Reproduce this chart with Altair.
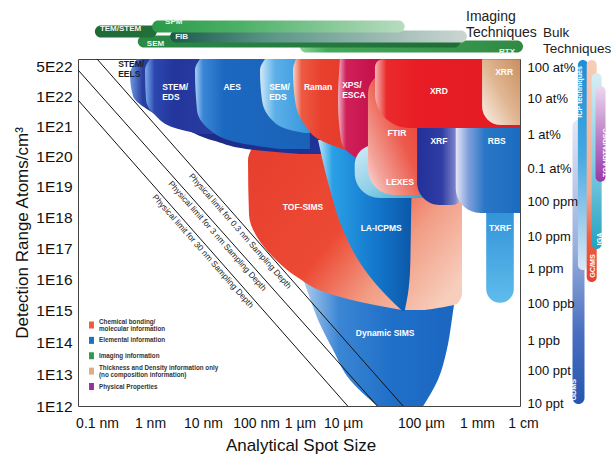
import altair as alt
import pandas as pd

FONT = "Liberation Sans"

# ------------------------------------------------------------------ data
# Spot size is stored as log10(metres), detection range as log10(atoms/cm3),
# bulk ranges as log10(atomic fraction).
SPOT_TICKS = [-10, -9, -8, -7, -6, -5, -4, -3, -2]
SPOT_LABELS = ["0.1 nm", "1 nm", "10 nm", "100 nm", "1 µm", "10 µm", "100 µm", "1 mm", "1 cm"]
DET_TICKS = [12, 13, 14, 15, 16, 17, 18, 19, 20, 21, 22, 22.699]
DET_LABELS = ["1E12", "1E13", "1E14", "1E15", "1E16", "1E17", "1E18", "1E19",
              "1E20", "1E21", "1E22", "5E22"]
FRAC_TICKS = [0, -1, -2, -3, -4, -5, -6, -7, -9, -10, -11]
FRAC_LABELS = ["100 at%", "10 at%", "1 at%", "0.1 at%", "100 ppm", "10 ppm", "1 ppm",
               "100 ppb", "1 ppb", "100 ppt", "10 ppt"]

# techniques with a simple spot-size range x detection range
TECHNIQUES = ["LEXES", "FTIR", "TXRF", "XRF", "RBS", "XRD", "XRR"]
SPOT_MIN = [-4.85, -4.68, -2.80, -4.05, -3.38, -4.59, -2.89]
SPOT_MAX = [-3.75, -4.01, -2.20, -3.27, -2.065, -2.065, -2.065]
DET_MIN = [18.61, 18.71, 15.23, 18.39, 18.13, 20.93, 21.03]
DET_MAX = [20.37, 22.56, 18.55, 20.97, 20.97, 22.86, 22.86]

# techniques whose spot-size limits change with detection level
EELS_DET = [22.863, 22.49, 22.0, 21.5, 21.0, 20.5, 20.2, 20.067]
EELS_MIN = [-9.245, -9.377, -9.321, -9.0, -8.434, -7.774, -7.019, -6.0]
EELS_MAX = [-5.04, -5.04, -5.04, -5.04, -5.04, -5.04, -5.04, -5.04]
EDS_DET = [22.863, 22.607, 21.867, 21.367, 20.933, 20.733]
EDS_MIN = [-9.0, -9.094, -9.075, -8.906, -8.528, -8.057]
EDS_MAX = [-7.30, -7.30, -7.30, -7.30, -7.30, -7.30]
AES_DET = [22.863, 22.607, 21.533, 20.867, 20.433, 20.233]
AES_MIN = [-8.057, -8.151, -8.113, -7.868, -7.302, -6.455]
AES_MAX = [-5.77, -5.77, -5.77, -5.77, -5.77, -5.77]
SEMEDS_DET = [22.863, 22.607, 21.867, 21.2, 20.867, 20.767]
SEMEDS_MIN = [-6.795, -6.909, -6.864, -6.636, -6.227, -5.884]
SEMEDS_MAX = [-5.77, -5.77, -5.77, -5.77, -5.77, -5.77]
RAMAN_DET = [22.863, 22.607, 21.867, 21.033, 20.533, 20.2]
RAMAN_MIN = [-6.091, -6.159, -6.114, -5.884, -5.535, -4.974]
RAMAN_MAX = [-4.91, -4.91, -4.91, -4.91, -4.91, -4.91]
XPS_DET = [22.863, 21.867, 20.533, 20.033, 19.767, 19.6]
XPS_MIN = [-5.07, -5.116, -5.047, -4.885, -4.654, -4.269]
XPS_MAX = [-4.2, -4.2, -4.2, -4.2, -4.2, -4.2]
TOF_DET = [20.267, 19.867, 18.065, 17.355, 16.71, 16.065, 15.548, 15.226, 15.0]
TOF_MIN = [-7.075, -7.151, -7.132, -6.977, -6.614, -6.068, -5.372, -4.718, -4.244]
TOF_MAX = [-3.268, -3.268, -3.268, -3.268, -3.268, -3.268, -3.268, -3.339, -3.929]
DSIMS_DET = [16.29, 15.65, 14.69, 13.75, 12.81, 12.0]
DSIMS_MIN = [-6.00, -5.84, -5.58, -5.23, -4.91, -4.56]
DSIMS_MAX = [-3.39, -3.39, -3.45, -3.54, -3.70, -3.96]
LAICP_DET = [20.53, 18.87, 17.58, 16.29, 15.48, 14.97]
LAICP_MIN = [-5.58, -5.30, -5.00, -4.72, -4.45, -4.24]
LAICP_MAX = [-4.08, -4.12, -4.13, -4.14, -4.17, -4.21]

# technique names written inside the regions (position of the first line)
REGION_LABELS = ["STEM/\nEDS", "SEM/\nEDS", "XPS/\nESCA",
                 "AES", "Raman", "XRD", "XRR", "FTIR", "XRF", "RBS", "LEXES",
                 "TOF-SIMS", "LA-ICPMS", "TXRF", "Dynamic SIMS"]
REGION_LABEL_SPOT = [-8.77, -6.70, -5.02,
                     -7.45, -5.58, -3.68, -2.41, -4.31, -3.68, -2.57, -4.27,
                     -5.93, -4.51, -2.50, -4.46]
REGION_LABEL_DET = [22.21, 22.21, 22.257,
                    22.21, 22.21, 22.12, 22.56, 20.77, 20.50, 20.50, 19.13,
                    18.32, 17.65, 17.65, 14.28]
EELS_LABEL = "STEM/\nEELS"
EELS_LABEL_SPOT, EELS_LABEL_DET = -9.60, 22.747

# physical limits for sampling depth
LIMIT_DEPTH = ["0.3 nm", "3 nm", "30 nm"]
LIMIT_SPOT_START = [-10.0, -10.358, -10.358]
LIMIT_DET_START = [22.863, 22.607, 21.867]
LIMIT_SPOT_END = [-4.23, -4.56, -4.94]
LIMIT_DET_END = [12.0, 12.0, 12.0]
LIMIT_LABEL_SPOT = [-7.21, -7.64, -7.91]
LIMIT_LABEL_DET = [17.68, 17.52, 17.03]

# imaging techniques (spot-size span)
IMAGING = ["RTX", "SEM", "FIB", "TEM/STEM", "SPM"]
IMAGING_MIN = [-6.00, -9.23, -8.62, -10.04, -8.96]
IMAGING_MAX = [-2.00, -3.30, -3.18, -8.87, -4.21]

# bulk techniques (atomic-fraction span)
BULK = ["GDMS", "ICP techniques", "GC/MS", "IGA", "TGA/DTA/DSC"]
BULK_TOP = [-1.61, 0.22, 0.22, -0.19, -0.61]
BULK_BOTTOM = [-11.03, -6.06, -6.40, -5.41, -3.42]
BULK_LABEL_POS = [-10.6, -0.8, -5.94, -5.09, -2.55]

INFO_TYPES = ["Chemical bonding/\nmolecular information", "Elemental information",
              "Imaging information",
              "Thickness and Density information only\n(no composition information)",
              "Physical Properties"]
INFO_COLORS = ["#ef5b3d", "#1b6fc4", "#2f9a4e", "#e0aa86", "#97309f"]

# ------------------------------------------------------------------ layout
W, H = 442, 347
X_MAIN = alt.Scale(domain=[-10.358] + SPOT_TICKS,
                   range=[0, 19, 72, 125, 178, 222, 265, 343, 399, 445], nice=False, zero=False)
Y_MAIN = alt.Scale(domain=DET_TICKS + [22.863],
                   range=[347, 315, 283, 251, 220, 189, 158, 127, 97, 67, 37, 7, 0],
                   nice=False, zero=False)
Y_FRAC = alt.Scale(domain=[-11.1, -11, -10, -9, -7, -6, -5, -4, -3, -2, -1, 0, 0.25],
                   range=[347, 344, 311, 281, 244, 209, 177, 142, 109, 75, 39, 8, 0],
                   nice=False, zero=False)
Y_ROWS = alt.Scale(domain=[0, 4], range=[-37.5, -7.5], nice=False, zero=False)
X_SLOTS = alt.Scale(domain=[0, 4], range=[495.5, 527.5], nice=False, zero=False)
Y_LEGEND = alt.Scale(domain=[0, 4], range=[266, 327.5], nice=False, zero=False)

IMAGING_ROW = {"SPM": 0, "TEM/STEM": 1, "FIB": 2, "SEM": 3, "RTX": 4}
BULK_SLOT = {"GDMS": 0, "ICP techniques": 0.8, "GC/MS": 2.4, "IGA": 3.3, "TGA/DTA/DSC": 4}
BULK_WIDTH = {"GDMS": 12, "ICP techniques": 10, "GC/MS": 10, "IGA": 10, "TGA/DTA/DSC": 10}

HORIZ = (0, 0, 1, 0)
VERT = (0, 0, 0, 1)


def grad(stops, direction=HORIZ):
    x1, y1, x2, y2 = direction
    return alt.Gradient(
        gradient="linear",
        stops=[alt.GradientStop(color=c, offset=o) for o, c in stops],
        x1=x1, y1=y1, x2=x2, y2=y2,
    )


PROFILES = {
    "STEM/EELS": (EELS_DET, EELS_MIN, EELS_MAX),
    "STEM/EDS": (EDS_DET, EDS_MIN, EDS_MAX),
    "AES": (AES_DET, AES_MIN, AES_MAX),
    "SEM/EDS": (SEMEDS_DET, SEMEDS_MIN, SEMEDS_MAX),
    "Raman": (RAMAN_DET, RAMAN_MIN, RAMAN_MAX),
    "XPS/ESCA": (XPS_DET, XPS_MIN, XPS_MAX),
    "TOF-SIMS": (TOF_DET, TOF_MIN, TOF_MAX),
    "Dynamic SIMS": (DSIMS_DET, DSIMS_MIN, DSIMS_MAX),
    "LA-ICPMS": (LAICP_DET, LAICP_MIN, LAICP_MAX),
}

REGION_STYLE = {
    "STEM/EELS": dict(stops=[(0, "#6a9ae4"), (0.06, "#2a3f9f"), (0.3, "#1d2b85"), (1, "#22349a")]),
    "STEM/EDS": dict(stops=[(0, "#78aeec"), (0.1, "#2c48b0"), (0.3, "#24369c"), (1, "#2a3fa5")]),
    "AES": dict(stops=[(0, "#a8d0f4"), (0.07, "#3b86d6"), (0.25, "#1c68c0"), (1, "#1a62b8")]),
    "SEM/EDS": dict(stops=[(0, "#d2e9f9"), (0.3, "#5cb0e8"), (1, "#3596dc")]),
    "Dynamic SIMS": dict(stops=[(0, "#b9d3f0"), (0.25, "#3b86d4"), (0.6, "#1f6fc8"), (1, "#1a66c0")]),
    "TOF-SIMS": dict(stops=[(0, "#e8402f"), (0.45, "#ec4a34"), (0.72, "#f29c84"), (1, "#f7cdbb")],
                     dir=(0, 0.2, 1, 0.8)),
    "LA-ICPMS": dict(stops=[(0, "#bfe6f8"), (0.15, "#2aa0e6"), (0.6, "#1377cc"), (1, "#0b55a5")]),
    "Raman": dict(stops=[(0, "#f8d2ca"), (0.15, "#ee5a42"), (0.5, "#e8402e"), (1, "#e53b2a")]),
    "XPS/ESCA": dict(stops=[(0, "#f0b4c6"), (0.12, "#d0205a"), (0.5, "#c5124c"), (1, "#b80e44")]),
    "LEXES": dict(stops=[(0, "#d3ecf6"), (0.5, "#8fd0e8"), (1, "#1ea2c6")], dir=(0, 0, 1, 1), tl=20, bl=25),
    "FTIR": dict(stops=[(0, "#e8372e"), (0.45, "#ec5a4c"), (0.8, "#f3a49b"), (1, "#fbe2de")],
                 dir=(1, 0, 0, 1), tl=22, bl=30),
    "TXRF": dict(stops=[(0, "#2d8ed6"), (1, "#5fbcec")], dir=VERT, bl=14, br=14),
    "XRF": dict(stops=[(0, "#23309a"), (0.55, "#2f3da4"), (0.85, "#7c82c8"), (1, "#cfd0ee")], bl=28, br=10),
    "RBS": dict(stops=[(0, "#e6e6f6"), (0.2, "#7e9fda"), (0.45, "#2a76c6"), (1, "#1a6cc0")], bl=25),
    "XRD": dict(stops=[(0, "#f6b4b0"), (0.08, "#ea2a2c"), (0.3, "#e81d25"), (1, "#e31b23")], tl=8, bl=40),
    "XRR": dict(stops=[(0, "#c98f60"), (0.5, "#e0b692"), (1, "#fbf1e9")], dir=(1, 0, 0, 1), bl=28),
}
DRAW_ORDER = ["Dynamic SIMS", "TOF-SIMS", "STEM/EELS", "STEM/EDS", "AES", "SEM/EDS", "LA-ICPMS",
              "Raman", "XPS/ESCA", "LEXES", "FTIR", "TXRF", "XRF", "RBS", "XRD", "XRR"]

IMAGING_STYLE = {
    "RTX": dict(stops=[(0, "#8fd39a"), (0.12, "#46a95a"), (1, "#2f8a44")], dx=-8),
    "SEM": dict(stops=[(0, "#2a8a45"), (1, "#1e6e36")], dx=9),
    "FIB": dict(stops=[(0, "#1d5a4a"), (0.35, "#5d978a"), (1, "#ccd6d2")], dx=5),
    "TEM/STEM": dict(stops=[(0, "#1f6a37"), (1, "#236f3a")], dx=5),
    "SPM": dict(stops=[(0, "#2a9a48"), (0.35, "#4db067"), (1, "#b8dcc0")], dx=13),
}
BULK_STYLE = {
    "GDMS": [(0, "#e4e6f4"), (0.45, "#9aaedc"), (0.75, "#4a6fc0"), (1, "#2556b0")],
    "ICP techniques": [(0, "#1a8fd8"), (0.45, "#45a8e0"), (1, "#dce8f6")],
    "GC/MS": [(0, "#f8cdb8"), (0.6, "#f4a890"), (0.8, "#ef5f40"), (1, "#e8402e")],
    "IGA": [(0, "#d6eef5"), (0.5, "#86cde2"), (1, "#20a2c0")],
    "TGA/DTA/DSC": [(0, "#eed8f0"), (0.45, "#c28ccc"), (1, "#9838a8")],
}


def tick_expr(ticks, labels):
    expr = "''"
    for t, l in reversed(list(zip(ticks, labels))):
        expr = f"abs(datum.value - ({t})) < 0.001 ? '{l}' : {expr}"
    return expr


X_AXIS = alt.Axis(values=SPOT_TICKS, labelExpr=tick_expr(SPOT_TICKS, SPOT_LABELS),
                  title="Analytical Spot Size", grid=False, ticks=False, tickSize=0, domain=False,
                  labelPadding=10, labelFontSize=14, labelFont=FONT, labelColor="#111",
                  labelFlush=False, labelOverlap=False,
                  titleFontSize=17, titleFont=FONT, titleFontWeight="normal", titleColor="#111",
                  titlePadding=7)
Y_AXIS = alt.Axis(values=DET_TICKS, labelExpr=tick_expr(DET_TICKS, DET_LABELS),
                  title="Detection Range Atoms/cm³", grid=False, ticks=False, tickSize=0, domain=False,
                  labelPadding=6, labelFontSize=15.5, labelFont=FONT, labelColor="#111",
                  labelFlush=False, labelOverlap=False,
                  titleFontSize=17, titleFont=FONT, titleFontWeight="normal", titleColor="#111",
                  titleX=-56, titleY=173.5, titleAngle=270, titleAlign="center", titleBaseline="middle")
R_AXIS = alt.Axis(orient="right", values=FRAC_TICKS, labelExpr=tick_expr(FRAC_TICKS, FRAC_LABELS),
                  title=None, grid=False, ticks=False, tickSize=0, domain=False,
                  labelPadding=7, labelFontSize=13, labelFont=FONT, labelColor="#111",
                  labelFlush=False, labelOverlap=False, zindex=1)

# ------------------------------------------------------------------ tables
regions = pd.DataFrame({"technique": TECHNIQUES, "spot_min": SPOT_MIN, "spot_max": SPOT_MAX,
                        "det_min": DET_MIN, "det_max": DET_MAX})
profiles = pd.concat([
    pd.DataFrame({"technique": name, "det": d, "lo": lo, "hi": hi})
    for name, (d, lo, hi) in PROFILES.items()
], ignore_index=True)
labels = pd.DataFrame({"text": REGION_LABELS, "spot": REGION_LABEL_SPOT, "det": REGION_LABEL_DET,
                       "multi": [("\n" in t) for t in REGION_LABELS]})
limits = pd.DataFrame({"text": [f"Physical limit for {d} Sampling Depth" for d in LIMIT_DEPTH],
                       "x0": LIMIT_SPOT_START, "y0": LIMIT_DET_START,
                       "x1": LIMIT_SPOT_END, "y1": LIMIT_DET_END,
                       "lx": LIMIT_LABEL_SPOT, "ly": LIMIT_LABEL_DET})
imaging = pd.DataFrame({"name": IMAGING, "lo": IMAGING_MIN, "hi": IMAGING_MAX,
                        "row": [IMAGING_ROW[n] for n in IMAGING]})
bulk = pd.DataFrame({"name": BULK, "top": BULK_TOP, "bottom": BULK_BOTTOM, "label": BULK_LABEL_POS,
                     "slot": [BULK_SLOT[n] for n in BULK]})
legend = pd.DataFrame({"info": INFO_TYPES, "row": list(range(len(INFO_TYPES))),
                       "multi": [("\n" in t) for t in INFO_TYPES]})

# ------------------------------------------------------------------ layers
layers = []

# invisible carrier for the main axes
layers.append(alt.Chart(limits).mark_rule(opacity=0).encode(
    x=alt.X("x0:Q", scale=X_MAIN, axis=X_AXIS),
    y=alt.Y("y0:Q", scale=Y_MAIN, axis=Y_AXIS),
))

for name in DRAW_ORDER:
    st = REGION_STYLE[name]
    fill = grad(st["stops"], st.get("dir", HORIZ))
    if name in PROFILES:
        layer = alt.Chart(profiles).transform_filter(alt.datum.technique == name).mark_area(
            orient="horizontal", interpolate="monotone", fill=fill
        ).encode(
            y=alt.Y("det:Q", scale=Y_MAIN, axis=None),
            x=alt.X("lo:Q", scale=X_MAIN, axis=None),
            x2="hi:Q",
        )
    else:
        layer = alt.Chart(regions).transform_filter(alt.datum.technique == name).mark_rect(
            fill=fill,
            cornerRadiusTopLeft=st.get("tl", 0), cornerRadiusTopRight=st.get("tr", 0),
            cornerRadiusBottomLeft=st.get("bl", 0), cornerRadiusBottomRight=st.get("br", 0),
        ).encode(
            x=alt.X("spot_min:Q", scale=X_MAIN, axis=None),
            x2="spot_max:Q",
            y=alt.Y("det_min:Q", scale=Y_MAIN, axis=None),
            y2="det_max:Q",
        )
    layers.append(layer)

# sampling-depth limit lines and their captions
layers.append(alt.Chart(limits).mark_rule(color="#111", strokeWidth=1).encode(
    x=alt.X("x0:Q", scale=X_MAIN, axis=None), x2="x1:Q",
    y=alt.Y("y0:Q", scale=Y_MAIN, axis=None), y2="y1:Q",
))
layers.append(alt.Chart(limits).mark_text(
    angle=48.6, align="center", baseline="top", dy=2, font=FONT, fontSize=8.4, color="#222"
).encode(
    x=alt.X("lx:Q", scale=X_MAIN, axis=None), y=alt.Y("ly:Q", scale=Y_MAIN, axis=None), text="text:N",
))

# technique names
for multi, align in ((True, "left"), (False, "center")):
    layers.append(alt.Chart(labels).transform_filter(alt.datum.multi == multi).mark_text(
        align=align, baseline="middle", font=FONT, fontSize=8.5, fontWeight="bold", color="white",
        lineBreak="\n", lineHeight=10.5,
    ).encode(
        x=alt.X("spot:Q", scale=X_MAIN, axis=None), y=alt.Y("det:Q", scale=Y_MAIN, axis=None),
        text="text:N",
    ))
layers.append(alt.Chart(pd.DataFrame({"text": [EELS_LABEL], "spot": [EELS_LABEL_SPOT],
                                      "det": [EELS_LABEL_DET]})).mark_text(
    align="left", baseline="middle", font=FONT, fontSize=8.5, fontWeight="bold", color="#1c1c2c",
    lineBreak="\n", lineHeight=10.5,
).encode(
    x=alt.X("spot:Q", scale=X_MAIN, axis=None), y=alt.Y("det:Q", scale=Y_MAIN, axis=None), text="text:N",
))

# imaging techniques above the plot
for name in IMAGING:
    st = IMAGING_STYLE[name]
    layers.append(alt.Chart(imaging).transform_filter(alt.datum.name == name).mark_bar(
        orient="horizontal", size=12, cornerRadius=6, fill=grad(st["stops"])
    ).encode(
        x=alt.X("lo:Q", scale=X_MAIN, axis=None), x2="hi:Q",
        y=alt.Y("row:Q", scale=Y_ROWS, axis=None),
    ))
    right = st["dx"] < 0
    layers.append(alt.Chart(imaging).transform_filter(alt.datum.name == name).mark_text(
        align="right" if right else "left", baseline="middle", dx=st["dx"], font=FONT, fontSize=8,
        fontWeight="bold", color="#eef5ee",
    ).encode(
        x=alt.X("hi:Q" if right else "lo:Q", scale=X_MAIN, axis=None),
        y=alt.Y("row:Q", scale=Y_ROWS, axis=None), text="name:N",
    ))

# bulk techniques on the right (atomic fraction axis)
first_bulk = True
for name in BULK:
    w = BULK_WIDTH[name]
    layers.append(alt.Chart(bulk).transform_filter(alt.datum.name == name).mark_bar(
        orient="vertical", size=w, cornerRadius=w / 2, fill=grad(BULK_STYLE[name], VERT)
    ).encode(
        x=alt.X("slot:Q", scale=X_SLOTS, axis=None),
        y=alt.Y("top:Q", scale=Y_FRAC, axis=R_AXIS if first_bulk else None), y2="bottom:Q",
    ))
    first_bulk = False
layers.append(alt.Chart(bulk).mark_text(
    angle=270, align="center", baseline="middle", font=FONT, fontSize=7.2, fontWeight="bold", color="white",
).encode(
    x=alt.X("slot:Q", scale=X_SLOTS, axis=None), y=alt.Y("label:Q", scale=Y_FRAC, axis=None),
    text="name:N",
))

# information-type key
layers.append(alt.Chart(legend).mark_point(
    shape="M-0.7,-1H0.7V1H-0.7Z", size=49, filled=True, opacity=1
).encode(
    x=alt.value(13.5), y=alt.Y("row:Q", scale=Y_LEGEND, axis=None),
    color=alt.Color("info:N", scale=alt.Scale(domain=INFO_TYPES, range=INFO_COLORS), legend=None),
))
for multi, shift in ((False, 0), (True, -3)):
    layers.append(alt.Chart(legend).transform_filter(alt.datum.multi == multi).mark_text(
        align="left", baseline="middle", dy=shift, font=FONT, fontSize=6.3, fontWeight="bold",
        color="#333", lineBreak="\n", lineHeight=7,
    ).encode(
        x=alt.value(21), y=alt.Y("row:Q", scale=Y_LEGEND, axis=None), text="info:N",
    ))

# group headings
for txt, px, py, fs in (("Imaging\nTechniques", 388, -42, 14), ("Bulk\nTechniques", 465, -26, 13.5)):
    layers.append(alt.Chart(pd.DataFrame({"t": [txt]})).mark_text(
        align="left", baseline="middle", font=FONT, fontSize=fs, color="#222",
        lineBreak="\n", lineHeight=15.5,
    ).encode(x=alt.value(px), y=alt.value(py), text="t:N"))

chart = alt.layer(*layers).resolve_scale(
    x="independent", y="independent"
).properties(
    width=W, height=H,
    padding={"left": 78, "top": 59, "right": 91, "bottom": 48},
    autosize=alt.AutoSizeParams(type="none"),
    background="white",
).configure_view(stroke="#444", strokeWidth=1)

chart.save("out.html", embed_options={"renderer": "svg", "actions": False})
